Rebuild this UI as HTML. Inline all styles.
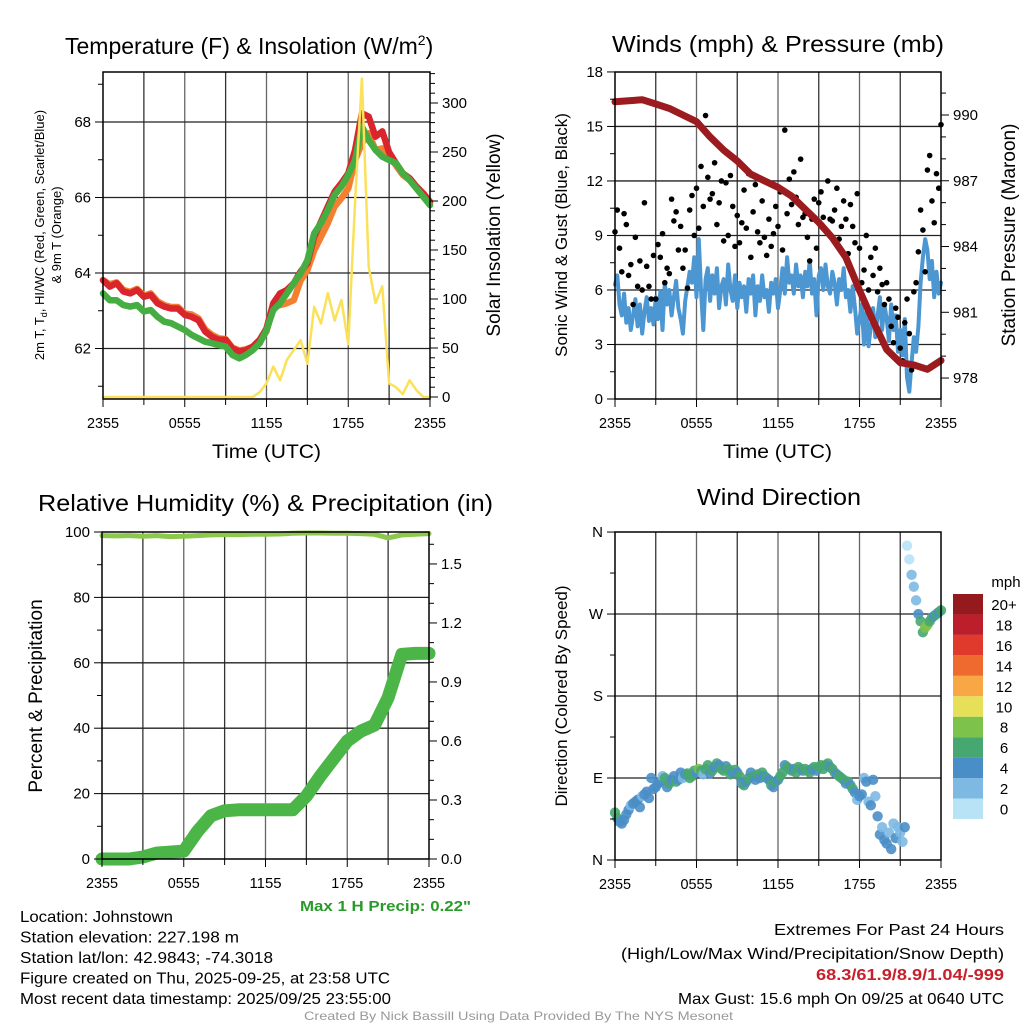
<!DOCTYPE html>
<html><head><meta charset="utf-8"><style>
html,body{margin:0;padding:0;background:#fff;}
svg{display:block;font-family:"Liberation Sans",Arial,sans-serif;}
</style></head><body>
<svg id="chart" width="1024" height="1024" viewBox="0 0 1024 1024" xmlns="http://www.w3.org/2000/svg">
<rect width="1024" height="1024" fill="#fff"/>
<g id="grids"></g>
<g id="series"></g>
<g id="axes"></g>
<g id="labels"></g>
</svg>
<script>
// ---- data (x index = time step from 2355 UTC previous day) ----
var timeTicks = ["2355","0555","1155","1755","2355"];
var tempRed = [63.81,63.64,63.73,63.51,63.46,63.55,63.37,63.42,63.2,63.11,63.06,63.06,62.89,62.84,62.75,62.45,62.31,62.23,62.23,62.0,61.92,61.96,62.05,62.23,62.53,63.2,63.46,63.55,63.73,64.04,64.26,64.96,65.36,65.76,66.15,66.38,66.64,67.26,68.23,68.14,67.61,67.75,67.2,66.91,66.64,66.51,66.29,66.11,65.89];
var tempGreen = [63.46,63.28,63.28,63.15,63.11,63.15,62.98,63.02,62.84,62.71,62.67,62.58,62.49,62.36,62.27,62.18,62.14,62.09,62.05,61.83,61.74,61.83,61.96,62.14,62.49,63.02,63.2,63.46,63.73,63.99,64.34,65.05,65.32,65.67,66.07,66.29,66.6,66.99,67.88,67.52,67.26,67.08,66.99,66.91,66.64,66.46,66.24,66.02,65.8];
var tempOrange = [63.81,63.7,63.75,63.55,63.5,63.58,63.4,63.46,63.25,63.15,63.1,63.1,62.93,62.9,62.8,62.5,62.36,62.27,62.25,62.02,61.95,61.98,62.05,62.2,62.45,63.1,63.15,63.2,63.28,63.8,64.08,64.6,64.96,65.32,65.76,65.98,66.24,66.99,67.43,67.7,67.26,67.3,67.1,66.85,66.6,66.46,66.25,66.06,65.85];
var insolation = [0,0,0,0,0,0,0,0,0,0,0,0,0,0,0,0,0,0,0,0,0,0,0,5,14,31,17,38,48,58,34,92,75,106,78,99,54,200,325,133,96,113,14,10,3,17,7,0,0];
var windSpeed = [6.3,6.8,5.2,4.6,5.8,4.2, 5.0,3.8,4.6,5.5,4.0,5.2, 3.6,4.8,5.6,4.3,5.0,4.1, 5.6,4.4,5.9,3.8,6.4,5.2, 6.0,4.6,5.6,6.5,5.0,4.4, 3.6,5.4,6.2,7.0,6.4,7.8, 5.6,8.8,6.0,3.8,6.6,7.2, 5.4,6.8,5.8,7.2,5.0,6.2, 6.6,5.2,7.4,6.0,5.4,6.8, 5.0,6.4,5.6,6.2,4.8,6.6, 5.8,6.8,4.6,6.2,5.4,6.8, 5.6,6.0,4.8,6.4,5.8,6.6, 5.0,6.0,7.2,5.8,7.8,6.4, 6.8,5.8,7.4,6.2,6.8,5.6, 7.0,6.2,7.6,5.8,6.6,4.6, 6.8,7.2,6.0,7.4,6.2,5.8, 7.0,6.4,5.2,6.6,6.0,7.2, 5.6,6.0,4.8,6.2,5.0,3.6, 4.4,5.2,3.0,4.8,2.9,4.0, 5.0,3.4,4.6,5.6,3.8,5.2, 4.4,3.2,5.2,3.8,4.6,2.6, 3.8,2.4,4.4,1.2,0.4,2.0, 3.4,2.6,4.0,6.4,7.8,8.8, 8.2,6.6,7.6,5.6,7.0,5.8, 6.4];
var windGust = [9.2,10.4,8.3,7.0,10.2,9.6, 6.8,7.4,5.2,8.9,6.2,7.6, 6.0,10.8,7.3,6.2,5.5,7.9, 5.5,8.5,7.8,9.1,6.4,7.2, 6.9,11.0,9.8,10.3,8.2,9.5, 7.2,8.2,6.1,10.4,11.2,9.0, 11.6,9.4,12.8,10.6,15.6,12.2, 11.0,11.3,13.0,9.6,10.8,12.0, 8.7,11.9,9.0,12.3,10.6,8.4, 10.1,8.6,9.7,11.5,9.4,12.4, 7.8,10.3,11.8,9.2,8.6,10.9, 8.9,7.9,9.9,8.4,9.1,10.6, 9.5,11.4,8.2,14.8,10.2,12.1, 10.7,12.5,11.1,9.6,13.2,10.0, 10.2,8.9,7.6,9.9,11.0,8.3, 10.8,11.4,10.0,9.3,12.0,9.9, 9.8,10.4,11.6,8.8,9.5,10.9, 9.9,8.0,10.7,9.5,8.6,11.3, 8.3,6.4,7.1,9.0,6.0,7.8, 6.8,8.3,5.9,7.2,6.3,5.2, 6.4,5.5,4.0,3.1,5.0,4.5, 2.8,2.1,4.2,5.5,3.6,1.6, 5.9,6.4,8.1,10.4,9.3,7.0, 12.6,13.4,10.9,9.7,12.4,11.6, 15.1];
var pressure = [990.6,990.65,990.7,990.5,990.3,990.0,989.7,989.0,988.4,987.9,987.3,987.0,986.7,986.3,985.7,985.1,984.4,983.5,982.0,980.6,979.3,978.7,978.6,978.4,978.8];
var relHumidity = [98.9,98.8,98.9,98.7,98.9,98.6,98.7,98.9,99.1,99.2,99.2,99.3,99.3,99.4,99.6,99.7,99.7,99.6,99.6,99.5,99.3,98.2,99.1,99.3,99.5];
var precipAccum = [0,0,0,0.01,0.03,0.035,0.04,0.14,0.22,0.245,0.25,0.25,0.25,0.25,0.25,0.32,0.42,0.51,0.60,0.65,0.68,0.82,1.04,1.045,1.045];
var windDir = [52,46,42,40,44,50, 55,60,62,64,66,58, 70,72,75,68,90,78, 80,84,86,92,90,80, 84,88,92,86,88,96, 90,94,95,90,92,98, 96,100,98,94,100,104, 95,98,102,106,104,100, 98,103,100,94,96,99, 96,92,84,82,86,90, 96,92,88,94,90,96, 92,90,88,82,80,86, 88,92,96,104,102,100, 98,100,96,102,100,98, 100,98,96,100,102,98, 102,104,100,104,106,102, 100,96,94,92,90,88, 84,86,82,78,74,66, 70,72,90,86,64,60, 88,70,48,28,36,22, 18,30,12,40,24,36, 30,20,36,345,330,313, 300,285,270,262,250,255, 258,262,266,268,270,272, 274];
var speedBins = ["0","2","4","6","8","10","12","14","16","18","20+"];
var binColors = ["#b8e3f7","#7db9e3","#4a8ec8","#47a771","#7cc24b","#e5e057","#f7a845","#ee6a2e","#df3a2c","#bc1e2b","#951a1d"];

var NS="http://www.w3.org/2000/svg";
function mk(tag,attrs,parent){var e=document.createElementNS(NS,tag);for(var k in attrs)e.setAttribute(k,attrs[k]);(parent||document.getElementById('series')).appendChild(e);return e;}
function txt(s,x,y,size,anchor,parent,extra){var t=mk('text',{x:x,y:y,'font-size':size,'text-anchor':anchor||'middle',fill:'#000'},parent||document.getElementById('labels'));if(extra)for(var k in extra)t.setAttribute(k,extra[k]);t.textContent=s;return t;}

var P1={x0:103,x1:430,y0:72,y1:399}, P2={x0:615,x1:941,y0:72,y1:399}, P3={x0:102,x1:429,y0:532,y1:859}, P4={x0:615,x1:941,y0:532,y1:860};
function xs(P,frac){return P.x0+(P.x1-P.x0)*frac;}
var yTemp=function(t){return 122+(68-t)*37.75;};
var yIns=function(v){return 397-v*0.98;};
var yWind=function(v){return 399-v*18.17;};
var yPres=function(p){return 115+(990-p)*21.92;};
var yRH=function(v){return 859-v*3.27;};
var yPr=function(v){return 859-v*196.7;};
var yDir=function(d){return 860-d*0.911;};

var G=document.getElementById('grids'), A=document.getElementById('axes'), S=document.getElementById('series');

function frame(P,name){
  for(var i=1;i<8;i++){var x=xs(P,i/8);var l=mk('line',{x1:x,x2:x,y1:P.y0,y2:P.y1,stroke:i%2?'#333':'#666','stroke-width':1.3},G);
  
  }
  var r=mk('rect',{x:P.x0,y:P.y0,width:P.x1-P.x0,height:P.y1-P.y0,fill:'none',stroke:'#000','stroke-width':1.5},A);
  
  
  for(var i=0;i<=8;i++){var x=xs(P,i/8);mk('line',{x1:x,x2:x,y1:P.y1,y2:P.y1+(i%2?6:8),stroke:'#000','stroke-width':1},A);}
  for(var i=0;i<timeTicks.length;i++){var t=txt(timeTicks[i],xs(P,i/4),P.y1+29,15,'middle',null,{textLength:32,lengthAdjust:'spacingAndGlyphs'});
  
  }
}
function hgrid(P,y){mk('line',{x1:P.x0,x2:P.x1,y1:y,y2:y,stroke:'#222','stroke-width':1.3},G);}
function ltick(P,y,major,label){mk('line',{x1:P.x0-(major?8:5),x2:P.x0,y1:y,y2:y,stroke:'#000','stroke-width':1},A);if(label!==undefined){var t=txt(label,P.x0-12,y+5,15,'end');}}
function rtick(P,y,major,label){mk('line',{x1:P.x1,x2:P.x1+(major?8:5),y1:y,y2:y,stroke:'#000','stroke-width':1},A);if(label!==undefined){var t=txt(label,P.x1+12,y+5,15,'start');}}
function path(P,arr,yf,attrs,name){var d='';for(var i=0;i<arr.length;i++){d+=(i?'L':'M')+xs(P,i/(arr.length-1)).toFixed(1)+' '+yf(arr[i]).toFixed(1);}
  attrs.d=d;attrs.fill='none';attrs['stroke-linejoin']='round';attrs['stroke-linecap']='round';var p=mk('path',attrs,S);
  
  return p;}

// ---- Panel 1 ----
frame(P1,'temp-panel');
for(var t=61;t<=69;t++){var y=yTemp(t);if(y<P1.y0||y>P1.y1)continue;var maj=t%2==0;if(maj)hgrid(P1,y);ltick(P1,y,maj,maj?String(t):undefined);}
for(var v=0;v<=330;v+=10){var y=yIns(v);if(y<P1.y0)break;var maj=v%50==0;rtick(P1,y,maj,maj?String(v):undefined);}
path(P1,tempOrange,yTemp,{stroke:'#f47f30','stroke-width':6.5},'temp-9m-orange-line');
path(P1,tempRed,yTemp,{stroke:'#d8262c','stroke-width':6.5},'temp-2m-red-line');
path(P1,tempGreen,yTemp,{stroke:'#45ad42','stroke-width':6.5},'dewpoint-green-line');
path(P1,insolation,yIns,{stroke:'#fbe15a','stroke-width':2.5},'insolation-yellow-line');

// ---- Panel 2 ----
frame(P2,'wind-panel');
for(var v=0;v<=18;v+=1.5){var y=yWind(v);var maj=v%3==0;if(maj&&v>0&&v<18)hgrid(P2,y);ltick(P2,y,maj,maj?String(v):undefined);}
for(var p=977;p<=992;p++){var y=yPres(p);if(y<P2.y0||y>P2.y1)continue;var maj=p%3==0;rtick(P2,y,maj,maj?String(p):undefined);}
path(P2,windSpeed,yWind,{stroke:'#4c96d2','stroke-width':4},'sonic-wind-blue-line');
for(var i=0;i<windGust.length;i++){var c=mk('circle',{cx:xs(P2,i/(windGust.length-1)),cy:yWind(windGust[i]),r:2.8,fill:'#000'},S);

}
path(P2,pressure,yPres,{stroke:'#9b1b1f','stroke-width':7},'pressure-maroon-line');

// ---- Panel 3 ----
frame(P3,'rh-panel');
for(var v=0;v<=100;v+=10){var y=yRH(v);var maj=v%20==0;if(maj&&v>0&&v<100)hgrid(P3,y);ltick(P3,y,maj,maj?String(v):undefined);}
for(var k=0;k<=16;k++){var v=k/10;var y=yPr(v);if(y<P3.y0)break;var maj=k%3==0;rtick(P3,y,maj,maj?v.toFixed(1):undefined);}
path(P3,relHumidity,yRH,{stroke:'#8cc84b','stroke-width':5},'rh-line');
path(P3,precipAccum,yPr,{stroke:'#4bb547','stroke-width':13},'precip-accum-line');

// ---- Panel 4 ----
frame(P4,'dir-panel');
var dirLbl=['N','E','S','W','N'];
for(var d=0;d<=360;d+=45){var y=yDir(d);var maj=d%90==0;if(maj&&d>0&&d<360)hgrid(P4,y);ltick(P4,y,maj,maj?dirLbl[d/90]:undefined);}
function binIdx(s){var b=Math.floor(s/2);return Math.max(0,Math.min(10,b));}
for(var i=0;i<windDir.length;i++){var c=mk('circle',{cx:xs(P4,i/(windDir.length-1)),cy:yDir(windDir[i]),r:5.2,fill:binColors[binIdx(windSpeed[i])],'fill-opacity':0.9},S);

}
var cb=mk('g',{},document.getElementById('labels'));


for(var i=0;i<speedBins.length;i++){var yy=594+(10-i)*20.45;mk('rect',{x:953,y:yy,width:30,height:20.45,fill:binColors[i]},cb);
var t=txt(speedBins[i],1004,yy+16,15,'middle',cb);}
txt('mph',1006,587,15,'middle',cb);

// ---- titles & labels ----
function T(s,x,y,size,anchor,len,name,extra){var t=txt(s,x,y,size,anchor,null,extra);if(len){t.setAttribute('textLength',len);t.setAttribute('lengthAdjust','spacingAndGlyphs');}

return t;}
var t1=T('',65,54,23,'start',null,'temp-panel-title');
t1.innerHTML='Temperature (F) &amp; Insolation (W/m<tspan dy="-9" font-size="14">2</tspan><tspan dy="9">)</tspan>';
T('Winds (mph) & Pressure (mb)',612,52,23,'start',332,'wind-panel-title');
T('Relative Humidity (%) & Precipitation (in)',38,511,23,'start',455,'rh-panel-title');
T('Wind Direction',697,505,23,'start',164,'dir-panel-title');
T('Time (UTC)',212,458,19,'start',109,'temp-x-axis-title');
T('Time (UTC)',723,458,19,'start',109,'wind-x-axis-title');
var la=T('',0,0,13,'middle',null,'temp-y-axis-title',{transform:'translate(44,235) rotate(-90)'});
la.innerHTML='<tspan x="0" y="0">2m T, T<tspan font-size="9" dy="3">d</tspan><tspan dy="-3">, HI/WC (Red, Green, Scarlet/Blue)</tspan></tspan><tspan x="0" y="17">&amp; 9m T (Orange)</tspan>';
T('Solar Insolation (Yellow)',0,0,19,'middle',null,'insolation-axis-title',{transform:'translate(500,235) rotate(-90)'});
T('Sonic Wind & Gust (Blue, Black)',0,0,17,'middle',null,'wind-y-axis-title',{transform:'translate(567,235) rotate(-90)'});
T('Station Pressure (Maroon)',0,0,19,'middle',null,'pressure-axis-title',{transform:'translate(1015,235) rotate(-90)'});
T('Percent & Precipitation',0,0,19,'middle',null,'rh-y-axis-title',{transform:'translate(42,696) rotate(-90)'});
T('Direction (Colored By Speed)',0,0,17,'middle',null,'dir-y-axis-title',{transform:'translate(567,696) rotate(-90)'});
T('Max 1 H Precip: 0.22"',300,911,15,'start',171,'max-precip-note',{fill:'#2a9a2a','font-weight':'bold'});
var info=[['Location: Johnstown',153],['Station elevation: 227.198 m',219],['Station lat/lon: 42.9843; -74.3018',253],['Figure created on Thu, 2025-09-25, at 23:58 UTC',370],['Most recent data timestamp: 2025/09/25 23:55:00',371]];
for(var i=0;i<info.length;i++)T(info[i][0],20,922+i*20.5,16,'start',info[i][1],'station-info-line');
T('Extremes For Past 24 Hours',1004,935,16,'end',230,'extremes-title');
T('(High/Low/Max Wind/Precipitation/Snow Depth)',1004,959,16,'end',383,'extremes-subtitle');
T('68.3/61.9/8.9/1.04/-999',1004,980,16,'end',188,'extremes-values',{fill:'#c8202b','font-weight':'bold'});
T('Max Gust: 15.6 mph On 09/25 at 0640 UTC',1004,1004,16,'end',326,'max-gust-note');
T('Created By Nick Bassill Using Data Provided By The NYS Mesonet',304,1020,12,'start',429,'credit-footer',{fill:'#999'});
</script>
</body></html>
